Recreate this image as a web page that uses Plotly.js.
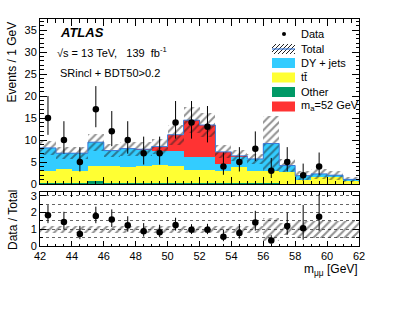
<!DOCTYPE html>
<html><head><meta charset="utf-8">
<script src="https://cdn.plot.ly/plotly-3.0.1.min.js"></script>
<style>html,body{margin:0;padding:0;background:#fff;}#c{width:399px;height:309px;}</style>
</head><body><div id="c"></div>
<script>
// ---- data ----
const binCenters = [42.5,43.5,44.5,45.5,46.5,47.5,48.5,49.5,50.5,51.5,52.5,53.5,54.5,55.5,56.5,57.5,58.5,59.5,60.5,61.5];
const binEdges = [42,43,44,45,46,47,48,49,50,51,52,53,54,55,56,57,58,59,60,61,62];
const other  = [0.15,0.15,0.15,0.6,0.3,0.15,0.15,0.15,0.15,0.15,0.15,0.15,0.15,0.15,0.15,0.1,0.1,0.1,0.1,0.1];
const ttbar  = [2.85,3.15,2.85,3.6,3.7,3.75,3.95,4.15,3.95,3.05,3.05,2.85,3.75,2.75,2.75,2.7,0.75,1.6,1.4,0.6];
const dyjets = [5.2,3.7,4.0,5.3,3.6,4.1,3.6,3.3,3.5,2.9,2.9,1.6,2.3,2.8,6.3,1.4,1.05,0.6,0.5,0.35];
const signal = [0,0,0,0,0,0.05,0.2,0.9,3.6,8.4,7.3,2.7,0.2,0,0,0,0,0,0,0];
const relUnc = [0.2,0.2,0.2,0.2,0.2,0.2,0.2,0.2,0.2,0.2,0.2,0.2,0.2,0.2,0.68,0.35,0.5,0.5,0.5,0.5];
const dataX  = [42.5,43.5,44.5,45.5,46.5,47.5,48.5,49.5,50.5,51.5,52.5,53.5,54.5,55.5,56.5,57.5,58.5,59.5];
const dataY  = [15,10,5,17,12,10,7,7,14,14,13,4,5,8,3,5,2,4];
const dataErrUp = [4.99,4.27,3.38,5.25,4.58,4.27,3.77,3.77,4.86,4.86,4.72,3.16,3.38,3.95,2.92,3.38,2.64,3.16];
const dataErrDn = [3.83,3.11,2.16,4.10,3.41,3.11,2.58,2.58,3.69,3.69,3.55,1.91,2.16,2.77,1.63,2.16,1.29,1.91];
const xTickVals = [42,44,46,48,50,52,54,56,58,60,62];

// ---- derived ----
const base1 = other.slice();
const base2 = other.map((v,i)=>v+ttbar[i]);
const base3 = base2.map((v,i)=>v+dyjets[i]);
const total = base3.map((v,i)=>v+signal[i]);
const hatchBase = total.map((t,i)=>t*(1-relUnc[i]));
const hatchLen = total.map((t,i)=>2*t*relUnc[i]);
const totalStep = total.concat([total[total.length-1]]);
const totAt = dataX.map(x=>total[binCenters.indexOf(x)]);
const ratioY = dataY.map((d,i)=>d/totAt[i]);
const ratioUp = dataErrUp.map((e,i)=>e/totAt[i]);
const ratioDn = dataErrDn.map((e,i)=>e/totAt[i]);
const rBase = relUnc.map(r=>1-r);
const rLen = relUnc.map(r=>2*r);

const C_DY='#33ccff', C_TT='#ffff33', C_OT='#009966', C_SIG='#ff3333', C_TOT='#3a78d6';
const W=399,H=309;
const px=x=>x/W, py=y=>(H-y)/H;
const FONT='Liberation Sans, Arial, sans-serif';

const hatchPat={shape:'/',fgcolor:'#222',bgcolor:'rgba(0,0,0,0)',size:5.5,solidity:0.35,fillmode:'overlay'};
function bar(y,base,color,xa,ya){return {type:'bar',x:binCenters,y:y,base:base,width:1,xaxis:xa,yaxis:ya,
  marker:{color:color,line:{width:0}},hoverinfo:'skip',showlegend:false};}

const traces=[
  bar(other,0,C_OT,'x','y'),
  bar(ttbar,base1,C_TT,'x','y'),
  bar(dyjets,base2,C_DY,'x','y'),
  bar(signal,base3,C_SIG,'x','y'),
  {type:'bar',x:binCenters,y:hatchLen,base:hatchBase,width:1,xaxis:'x',yaxis:'y',
   marker:{color:'rgba(0,0,0,0)',line:{width:0},pattern:hatchPat},hoverinfo:'skip',showlegend:false},
  {type:'scatter',mode:'lines',x:binEdges,y:totalStep,line:{shape:'hv',color:C_TOT,width:1},xaxis:'x',yaxis:'y',showlegend:false},
  {type:'scatter',mode:'markers',x:dataX,y:dataY,xaxis:'x',yaxis:'y',marker:{color:'#000',size:6.5},
   error_y:{type:'data',symmetric:false,array:dataErrUp,arrayminus:dataErrDn,color:'#000',thickness:1,width:0},showlegend:false},
  {type:'bar',x:binCenters,y:rLen,base:rBase,width:1,xaxis:'x2',yaxis:'y2',
   marker:{color:'rgba(0,0,0,0)',line:{width:0},pattern:hatchPat},hoverinfo:'skip',showlegend:false},
  {type:'scatter',mode:'markers',x:dataX,y:ratioY,xaxis:'x2',yaxis:'y2',marker:{color:'#000',size:6.5},
   error_y:{type:'data',symmetric:false,array:ratioUp,arrayminus:ratioDn,color:'#000',thickness:1,width:0},showlegend:false}
];

const axCommon={showline:true,linecolor:'#000',linewidth:1,mirror:'allticks',ticks:'inside',tickcolor:'#000',
  showgrid:false,zeroline:false,tickfont:{family:FONT,size:11,color:'#000'}};
const xd=[px(40),px(359)];

// legend shapes
const shapes=[];
const annotations=[];
const lgX0=272,lgX1=295,lgTX=299;
const rows=[34,49,63,77.5,92,106.5];
shapes.push({type:'circle',xref:'paper',yref:'paper',x0:px(282),x1:px(286),y0:py(36),y1:py(32),fillcolor:'#000',line:{width:0}});
(function(){const y0=rows[1]-5,y1=rows[1]+5;
  for(let a=lgX0-10;a<lgX1;a+=4){
    let xs=a,ys=y1,xe=a+10,ye=y0;
    if(xs<lgX0){ys-= (lgX0-xs); xs=lgX0;}
    if(xe>lgX1){ye+= (xe-lgX1); xe=lgX1;}
    if(xe>xs) shapes.push({type:'line',xref:'paper',yref:'paper',x0:px(xs),y0:py(ys),x1:px(xe),y1:py(ye),line:{color:'#222',width:1}});
  }
  shapes.push({type:'line',xref:'paper',yref:'paper',x0:px(lgX0),x1:px(lgX1),y0:py(rows[1]),y1:py(rows[1]),line:{color:C_TOT,width:1.2}});
})();
[[C_DY,2],[C_TT,3],[C_OT,4],[C_SIG,5]].forEach(([c,r])=>{
  shapes.push({type:'rect',xref:'paper',yref:'paper',x0:px(lgX0),x1:px(lgX1),y0:py(rows[r]+5),y1:py(rows[r]-5),fillcolor:c,line:{width:0}});
});
const lgText=['Data','Total','DY + jets','tt\u0304','Other','m<sub>a</sub>=52 GeV'];
lgText.forEach((t,i)=>annotations.push({xref:'paper',yref:'paper',x:px(lgTX),y:py(rows[i]),xanchor:'left',yanchor:'middle',
  text:t,showarrow:false,font:{family:FONT,size:11,color:'#000'}}));

function ann(x,y,t,o){return Object.assign({xref:'paper',yref:'paper',x:px(x),y:py(y),text:t,showarrow:false,
  xanchor:'left',yanchor:'middle',font:{family:FONT,size:11,color:'#000'}},o||{});}
annotations.push(ann(58,33,'<b><i>ATLAS</i></b>',{font:{family:FONT,size:13,color:'#000'}}));
annotations.push(ann(55,52,'\u221As = 13 TeV,\u00a0\u00a0 139\u00a0 fb<sup>-1</sup>'));
annotations.push(ann(58,73,'SRincl + BDT50&gt;0.2'));
annotations.push(ann(11,20,'Events / 1 GeV',{textangle:-90,xanchor:'center',yanchor:'top',font:{family:FONT,size:12,color:'#000'}}));
annotations.push(ann(13,220,'Data / Total',{textangle:-90,xanchor:'center',yanchor:'middle',font:{family:FONT,size:12,color:'#000'}}));
annotations.push(ann(360,270,'m<sub>\u03bc\u03bc</sub> [GeV]',{xanchor:'right',font:{family:FONT,size:12,color:'#000'}}));

const layout={width:W,height:H,margin:{l:0,r:0,t:0,b:0},paper_bgcolor:'#fff',plot_bgcolor:'#fff',
  barmode:'overlay',bargap:0,showlegend:false,
  xaxis:Object.assign({},axCommon,{domain:xd,range:[42,62],anchor:'y',tickvals:xTickVals,showticklabels:false,ticklen:7,
    minor:{ticks:'inside',dtick:0.5,ticklen:3.5,tickcolor:'#000'}}),
  yaxis:Object.assign({},axCommon,{domain:[py(184),py(19)],range:[0,37.5],anchor:'x',dtick:5,ticklen:7,
    minor:{ticks:'inside',dtick:1,ticklen:3.5,tickcolor:'#000'}}),
  xaxis2:Object.assign({},axCommon,{domain:xd,range:[42,62],anchor:'y2',tickvals:xTickVals,ticklen:5,ticklabelstandoff:0,
    minor:{ticks:'inside',dtick:0.5,ticklen:2.5,tickcolor:'#000'}}),
  yaxis2:Object.assign({},axCommon,{domain:[py(246),py(192.3)],range:[0,3.2],anchor:'x2',dtick:1,ticklen:6,
    showgrid:true,gridcolor:'#666',griddash:'dot',gridwidth:1,
    minor:{ticks:'inside',dtick:0.5,ticklen:3,tickcolor:'#000',showgrid:true,gridcolor:'#666',griddash:'dot',gridwidth:1}}),
  shapes:shapes,annotations:annotations
};
Plotly.newPlot('c',traces,layout,{staticPlot:true,displayModeBar:false});
</script></body></html>
